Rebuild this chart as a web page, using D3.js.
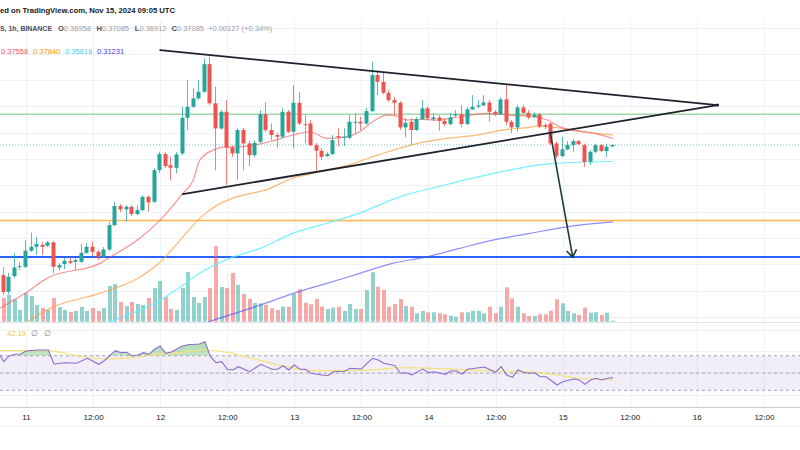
<!DOCTYPE html>
<html><head><meta charset="utf-8">
<script src="https://cdn.jsdelivr.net/npm/d3@7"></script>
<style>
html,body{margin:0;padding:0;background:#fff;}
svg{display:block;font-family:"Liberation Sans",Arial,sans-serif;}
</style></head><body>
<svg id="c" width="800" height="450"></svg>
<script>
// ---------- DATA (1h candles, hour offsets from Nov 11 00:00 UTC) ----------
const hours = d3.range(-4, 106);
const open = [0.2718,0.2591,0.2710,0.2781,0.2781,0.2903,0.2933,0.2948,0.2941,0.2967,0.2776,0.2802,0.2824,0.2819,0.2819,0.2887,0.2933,0.2895,0.2857,0.2913,0.3098,0.3243,0.3218,0.3237,0.3182,0.3212,0.3313,0.3275,0.3516,0.3638,0.3554,0.3534,0.3643,0.3914,0.3998,0.4062,0.4112,0.4322,0.4024,0.3833,0.3960,0.3689,0.3643,0.3821,0.3719,0.3630,0.3732,0.3942,0.3821,0.3783,0.3770,0.3960,0.3808,0.4028,0.3866,0.3871,0.3706,0.3663,0.3623,0.3638,0.3775,0.3762,0.3762,0.3876,0.3884,0.3871,0.3965,0.4239,0.4188,0.4104,0.4049,0.4028,0.3841,0.3884,0.3821,0.3904,0.3986,0.3904,0.3917,0.3891,0.3866,0.3932,0.3942,0.3866,0.3978,0.3998,0.4008,0.4031,0.3960,0.3942,0.4054,0.3884,0.3841,0.3993,0.3952,0.3922,0.3940,0.3859,0.3870,0.3719,0.3623,0.3674,0.3706,0.3737,0.3706,0.3579,0.3656,0.3706,0.3661,0.36958];
const high = [0.2779,0.2735,0.2885,0.2817,0.2984,0.3040,0.3009,0.2969,0.2976,0.2976,0.2809,0.2847,0.2852,0.2845,0.2954,0.2961,0.2971,0.2908,0.2931,0.3121,0.3275,0.3258,0.3250,0.3250,0.3250,0.3326,0.3322,0.3532,0.3656,0.3653,0.3617,0.3653,0.3998,0.4201,0.4138,0.4201,0.4366,0.4378,0.4150,0.3973,0.4049,0.3706,0.3836,0.3836,0.3737,0.3744,0.3973,0.4033,0.3871,0.3798,0.3986,0.3973,0.4163,0.4112,0.3935,0.3897,0.3722,0.3684,0.3653,0.3783,0.3833,0.3833,0.3935,0.3948,0.3922,0.3988,0.4340,0.4264,0.4254,0.4125,0.4074,0.4041,0.3912,0.3912,0.3919,0.4049,0.4003,0.3950,0.3935,0.3912,0.3950,0.3973,0.4011,0.3995,0.4087,0.4049,0.4087,0.4049,0.3973,0.4071,0.4163,0.3897,0.4011,0.4011,0.3973,0.3957,0.3950,0.3874,0.3881,0.3732,0.3770,0.3737,0.3752,0.3744,0.3718,0.3668,0.3718,0.3714,0.3714,0.37085];
const low = [0.2566,0.2573,0.2695,0.2756,0.2771,0.2893,0.2870,0.2870,0.2931,0.2731,0.2756,0.2764,0.2802,0.2756,0.2809,0.2878,0.2862,0.2832,0.2847,0.2900,0.3090,0.3197,0.3123,0.3167,0.3174,0.3205,0.3199,0.3265,0.3494,0.3532,0.3440,0.3494,0.3630,0.3821,0.3988,0.4049,0.4102,0.4011,0.3516,0.3821,0.3402,0.3617,0.3440,0.3516,0.3547,0.3615,0.3722,0.3805,0.3744,0.3684,0.3760,0.3798,0.3684,0.3859,0.3722,0.3699,0.3516,0.3592,0.3615,0.3630,0.3694,0.3699,0.3752,0.3795,0.3821,0.3859,0.3957,0.4087,0.4094,0.4033,0.3935,0.3821,0.3767,0.3714,0.3813,0.3897,0.3897,0.3889,0.3815,0.3851,0.3859,0.3919,0.3841,0.3859,0.3973,0.3988,0.4003,0.3884,0.3927,0.3935,0.3859,0.3798,0.3808,0.3942,0.3904,0.3912,0.3836,0.3828,0.3706,0.3608,0.3615,0.3668,0.3656,0.3706,0.3539,0.3554,0.3646,0.3653,0.3617,0.36912];
const close = [0.2589,0.2705,0.2776,0.2786,0.2903,0.2933,0.2954,0.2933,0.2967,0.2781,0.2794,0.2827,0.2811,0.2832,0.2887,0.2933,0.2895,0.2857,0.2913,0.3098,0.3243,0.3218,0.3237,0.3182,0.3212,0.3313,0.3271,0.3516,0.3638,0.3547,0.3534,0.3636,0.3914,0.3998,0.4062,0.4112,0.4322,0.4024,0.3833,0.3960,0.3689,0.3643,0.3821,0.3719,0.3630,0.3724,0.3942,0.3821,0.3783,0.3770,0.3960,0.3808,0.4028,0.3871,0.3859,0.3706,0.3663,0.3617,0.3638,0.3744,0.3765,0.3770,0.3884,0.3884,0.3871,0.3965,0.4239,0.4188,0.4104,0.4049,0.4028,0.3841,0.3876,0.3821,0.3904,0.3986,0.3910,0.3917,0.3891,0.3866,0.3917,0.3942,0.3866,0.3978,0.3998,0.4008,0.4031,0.3960,0.3942,0.4054,0.3884,0.3841,0.3993,0.3952,0.3917,0.3940,0.3849,0.3847,0.3719,0.3623,0.3674,0.3709,0.3737,0.3714,0.3579,0.3656,0.3706,0.3661,0.3695,0.37085];
const volume = [237,267,227,117,287,257,167,137,117,237,147,117,97,107,147,107,137,107,137,357,377,197,157,197,177,167,237,337,407,247,127,117,337,497,247,187,247,337,757,347,337,487,367,277,227,187,184,167,134,117,150,150,277,324,190,174,227,150,127,140,150,107,177,127,127,317,494,350,317,150,177,227,157,150,84,107,94,94,84,74,60,50,94,94,110,110,84,150,84,150,344,234,150,84,57,57,74,74,110,224,184,107,84,67,140,90,94,67,90,10];

// moving averages
const ema20Hours = [-4.6,-0.1,3.8,13.3,15.1,20.4,24.0,28.1,29.9,31.1,33.5,35.3,37.0,39.5,43.6,47.8,50.8,53.8,56.7,59.7,62.0,64.5,66.3,68.1,70.4,73.5,77.6,82.4,86.0,90.1,93.3,95.8,98.6,101.7,105];
const ema20Values = [0.2467,0.2581,0.2695,0.2809,0.2855,0.3000,0.3136,0.3341,0.3440,0.3592,0.3668,0.3691,0.3691,0.3699,0.3732,0.3783,0.3808,0.3757,0.3765,0.3808,0.3884,0.3935,0.3927,0.3897,0.3902,0.3897,0.3922,0.3948,0.3935,0.3927,0.3897,0.3841,0.3815,0.3795,0.37558];
const ema50Hours = [0.2,4.4,13.3,20.4,24.0,27.6,31.1,34.2,37.0,43.3,47.8,51.7,57.6,62.9,69.5,75.3,80.6,86.0,90.1,91.5,94.5,97.6,101.1,105];
const ema50Values = [0.2363,0.2467,0.2581,0.2703,0.2817,0.2984,0.3151,0.3250,0.3303,0.3372,0.3456,0.3494,0.3554,0.3630,0.3714,0.3757,0.3783,0.3826,0.3841,0.3851,0.3841,0.3821,0.3800,0.3784];
const ema100Hours = [15.1,20.4,24.0,27.6,31.1,37.0,41.9,47.8,53.8,59.7,64.5,67.8,73.6,79.7,85.6,91.5,94.5,105];
const ema100Values = [0.2363,0.2452,0.2528,0.2627,0.2733,0.2855,0.2921,0.3037,0.3113,0.3189,0.3275,0.3326,0.3389,0.3453,0.3509,0.3554,0.3567,0.35818];
const ema200Hours = [32.6,41.9,47.8,53.8,59.7,65.6,71.7,77.6,83.5,90.1,96.7,105];
const ema200Values = [0.2363,0.2490,0.2579,0.2655,0.2731,0.2807,0.2857,0.2921,0.2984,0.3035,0.3085,0.31231];

// RSI pane
const rsiHours = [-5,-4,-3,-2,-1,0,2,4,5,7,9,11,13,14,16,17,18,19,20,21,22,23,24,25,26,28,29,31,32,33,34,35,36,37,38,40,42,44,45,46,47,48,49,50,51,53,54,55,57,58,60,61,62,63,64,66,67,68,69,71,72,73,75,76,77,78,79,81,82,84,85,86,87,88,89,90,91,92,93,94,95,96,98,99,100,101,102,103,104,105];
const rsiValues = [74.6,63.1,69.7,71.6,72.0,75.4,76.6,76.6,60.4,61.9,61.2,67.0,60.1,64.2,75.8,73.5,73.9,69.7,70.8,73.5,71.6,77.4,81.2,72.8,74.3,81.2,82.7,83.5,86.2,68.8,61.9,63.1,54.3,53.5,57.3,51.5,60.1,54.3,54.3,58.4,53.5,59.2,54.3,54.3,49.7,47.7,46.9,51.5,52.0,55.4,54.6,61.2,67.0,65.0,61.2,58.4,49.7,50.3,47.7,54.6,50.3,51.5,48.5,52.3,52.3,48.8,54.3,56.1,56.9,50.8,57.3,47.7,45.0,53.5,50.8,49.7,50.3,45.7,45.7,41.1,36.1,39.9,43.1,41.9,36.9,41.9,43.9,41.9,43.9,44.6];
const rsiMaHours = [-5,4,7,10,15,19,24,29,32,36,40,44,48,52,58,62,67,73,79,85,91,95,99,103,105];
const rsiMaValues = [75.8,75.8,72.8,68.8,66.2,67.7,72.0,74.6,76.6,73.9,67.7,61.2,55.4,52.7,52.7,53.5,56.1,55.4,53.5,52.3,50.8,47.7,43.9,42.7,42.19];
const rsiLevels = [70, 50, 30];
const rsiGrid = [100, 75, 50, 25];

// drawings
const upperTrendHours = [24.0, 123.7], upperTrendPrices = [0.4429, 0.4011];
const lowerTrendHours = [28.05, 123.7], lowerTrendPrices = [0.3334, 0.4011];
const arrowHours = [93.8, 97.8], arrowPrices = [0.3798, 0.2855];
const levelPrices = [0.3942, 0.3134, 0.2855];
const levelColors = ["#a5d6a7", "#ffb74d", "#2962ff"];
const lastClose = 0.37085;

// time axis
const tickHours = d3.range(0, 133, 12);
const tickLabels = ["11","12:00","12","12:00","13","12:00","14","12:00","15","12:00","16","12:00"];
const gridPrices = d3.range(0.24, 0.4701, 0.02);

// legends
const headerText = "ed on TradingView.com, Nov 15, 2024 09:05 UTC";
const symbolText = "S, 1h, BINANCE";
const ohlcLabels = ["O","H","L","C"];
const ohlcValues = ["0.36958","0.37085","0.36912","0.37085"];
const changeText = "+0.00127 (+0.34%)";
const maLegend = ["0.37558","0.37840","0.35818","0.31231"];
const maColors = ["#f7525f","#ff9800","#4dd0e1","#3d3df0"];

// ---------- DRAW ----------
const svg = d3.select("#c");
const PANE_TOP = 19, PANE_BOT = 322, RSI_TOP = 322, RSI_BOT = 407;
const x = d3.scaleLinear().domain([0, 132]).range([26, 763.9]);
const y = d3.scaleLinear().domain([0.24, 0.44]).range([316.9, 53.9]);
const vy = d3.scaleLinear().domain([0, 760]).range([321.7, 245.7]);
const ry = d3.scaleLinear().domain([30, 70]).range([390.3, 355.7]);

svg.append("rect").attr("width",800).attr("height",450).attr("fill","#fff");
const defs = svg.append("defs");
defs.append("clipPath").attr("id","cmain").append("rect").attr("x",0).attr("y",PANE_TOP).attr("width",800).attr("height",PANE_BOT-PANE_TOP);
defs.append("clipPath").attr("id","crsi").append("rect").attr("x",0).attr("y",RSI_TOP).attr("width",800).attr("height",RSI_BOT-RSI_TOP);
defs.append("clipPath").attr("id","cob").append("rect").attr("x",0).attr("y",RSI_TOP).attr("width",800).attr("height",ry(70)-RSI_TOP);
const grad = defs.append("linearGradient").attr("id","gob").attr("x1",0).attr("x2",0).attr("y1",0).attr("y2",1);
grad.append("stop").attr("offset","0%").attr("stop-color","rgba(76,175,80,0.45)");
grad.append("stop").attr("offset","100%").attr("stop-color","rgba(76,175,80,0.05)");

const gridColor = "#eef1f6";
// vertical grid
svg.append("g").selectAll("line").data(tickHours).join("line")
  .attr("x1",d=>Math.round(x(d))+0.5).attr("x2",d=>Math.round(x(d))+0.5)
  .attr("y1",PANE_TOP).attr("y2",RSI_BOT).attr("stroke",gridColor);
// price grid
const main = svg.append("g").attr("clip-path","url(#cmain)");
main.append("g").selectAll("line").data(gridPrices).join("line")
  .attr("x1",0).attr("x2",800).attr("y1",d=>Math.round(y(d))+0.5).attr("y2",d=>Math.round(y(d))+0.5)
  .attr("stroke",gridColor);

// horizontal levels
main.append("g").selectAll("line").data(levelPrices).join("line")
  .attr("x1",0).attr("x2",800).attr("y1",d=>y(d)).attr("y2",d=>y(d))
  .attr("stroke",(d,i)=>levelColors[i]).attr("stroke-width",(d,i)=>i===2?2:1.5);

// volume
const isUp = i => close[i] >= open[i];
main.append("g").selectAll("rect").data(hours).join("rect")
  .attr("x",(d)=>Math.round(x(d))-2).attr("width",4)
  .attr("y",(d,i)=>vy(volume[i])).attr("height",(d,i)=>vy(0)-vy(volume[i]))
  .attr("fill",(d,i)=>isUp(i)?"rgba(38,166,154,0.5)":"rgba(239,83,80,0.5)");

// moving averages
const lineGen = d3.line().x(d=>x(d[0])).y(d=>y(d[1])).curve(d3.curveMonotoneX);
const maSets = [
  [ema200Hours, ema200Values, "rgba(80,80,255,0.65)"],
  [ema100Hours, ema100Values, "rgba(90,240,255,0.85)"],
  [ema50Hours, ema50Values, "rgba(255,160,70,0.75)"],
  [ema20Hours, ema20Values, "rgba(245,90,90,0.65)"]
];
maSets.forEach(([hs, vs, col]) => {
  main.append("path").datum(hs.map((h,i)=>[h, vs[i]])).attr("d",lineGen)
    .attr("fill","none").attr("stroke",col).attr("stroke-width",1.2);
});

// last price dotted line
main.append("line").attr("x1",0).attr("x2",800).attr("y1",y(lastClose)).attr("y2",y(lastClose))
  .attr("stroke","#26a69a").attr("stroke-dasharray","1,2").attr("opacity",0.6);

// candles
const cg = main.append("g");
hours.forEach((h,i)=>{
  const cx = Math.round(x(h));
  const col = isUp(i) ? "#26a69a" : "#ef5350";
  cg.append("rect").attr("x",cx-1).attr("width",1)
    .attr("y",y(high[i])).attr("height",Math.max(1,y(low[i])-y(high[i]))).attr("fill",col).attr("opacity",0.75);
  const top = y(Math.max(open[i],close[i])), bot = y(Math.min(open[i],close[i]));
  cg.append("rect").attr("x",cx-2.5).attr("width",4)
    .attr("y",top).attr("height",Math.max(1,bot-top)).attr("fill",col);
});

// trend lines
[[upperTrendHours, upperTrendPrices],[lowerTrendHours, lowerTrendPrices]].forEach(([hs,ps])=>{
  main.append("line").attr("x1",x(hs[0])).attr("y1",y(ps[0])).attr("x2",x(hs[1])).attr("y2",y(ps[1]))
    .attr("stroke","#1e222d").attr("stroke-width",1.8).attr("stroke-linecap","round");
});
main.append("circle").attr("cx",x(upperTrendHours[1])).attr("cy",y(upperTrendPrices[1])).attr("r",1.6).attr("fill","#1e222d");

// arrow
const ax1 = x(arrowHours[0]), ay1 = y(arrowPrices[0]), ax2 = x(arrowHours[1]), ay2 = y(arrowPrices[1]);
main.append("line").attr("x1",ax1).attr("y1",ay1).attr("x2",ax2).attr("y2",ay2)
  .attr("stroke","#1d3b32").attr("stroke-width",1.6);
const ang = Math.atan2(ay2-ay1, ax2-ax1);
[Math.PI*0.8, -Math.PI*0.8].forEach(a=>{
  main.append("line").attr("x1",ax2).attr("y1",ay2)
    .attr("x2",ax2+8*Math.cos(ang+a)).attr("y2",ay2+8*Math.sin(ang+a))
    .attr("stroke","#1d3b32").attr("stroke-width",1.6).attr("stroke-linecap","round");
});

// pane separator
svg.append("line").attr("x1",0).attr("x2",800).attr("y1",PANE_BOT+0.5).attr("y2",PANE_BOT+0.5).attr("stroke","#e0e3eb");

// ---------- RSI ----------
const rg = svg.append("g").attr("clip-path","url(#crsi)");
rg.append("g").selectAll("line").data(rsiGrid).join("line")
  .attr("x1",0).attr("x2",800).attr("y1",d=>Math.round(ry(d))+0.5).attr("y2",d=>Math.round(ry(d))+0.5).attr("stroke",gridColor);
rg.append("rect").attr("x",0).attr("width",800).attr("y",ry(70)).attr("height",ry(30)-ry(70)).attr("fill","rgba(126,87,194,0.1)");
rg.append("g").selectAll("line").data(rsiLevels).join("line")
  .attr("x1",0).attr("x2",800).attr("y1",d=>ry(d)).attr("y2",d=>ry(d))
  .attr("stroke","#9598a1").attr("stroke-dasharray","3,3").attr("opacity",0.8);
const rsiPts = rsiHours.map((h,i)=>[h, rsiValues[i]]);
rg.append("path").datum(rsiPts).attr("clip-path","url(#cob)")
  .attr("d", d3.area().x(d=>x(d[0])).y0(ry(70)).y1(d=>ry(d[1])))
  .attr("fill","url(#gob)");
rg.append("path").datum(rsiMaHours.map((h,i)=>[h, rsiMaValues[i]]))
  .attr("d", d3.line().x(d=>x(d[0])).y(d=>ry(d[1])).curve(d3.curveMonotoneX))
  .attr("fill","none").attr("stroke","#f5e37a").attr("stroke-width",1.2);
rg.append("path").datum(rsiPts)
  .attr("d", d3.line().x(d=>x(d[0])).y(d=>ry(d[1])))
  .attr("fill","none").attr("stroke","#8b6ccf").attr("stroke-width",1.1);

// time axis
svg.append("line").attr("x1",0).attr("x2",800).attr("y1",RSI_BOT+0.5).attr("y2",RSI_BOT+0.5).attr("stroke","#c9ccd4").attr("stroke-width",1.2);
svg.append("line").attr("x1",0).attr("x2",800).attr("y1",426.5).attr("y2",426.5).attr("stroke","#f0f2f5");
const axis = d3.axisBottom(x).tickValues(tickHours).tickFormat((d,i)=>tickLabels[i]).tickSize(0).tickPadding(7.5);
const ag = svg.append("g").attr("transform",`translate(0,${RSI_BOT})`).call(axis);
ag.select(".domain").remove();
ag.selectAll("text").attr("fill","#131722").attr("font-size","8px").attr("font-family","Liberation Sans, Arial, sans-serif");

// ---------- LEGENDS ----------
svg.append("text").attr("x",0).attr("y",13.3).attr("font-size","7.8px").attr("font-weight","bold").attr("fill","#131722")
  .attr("textLength",175).attr("lengthAdjust","spacingAndGlyphs").text(headerText);
svg.append("text").attr("x",0).attr("y",30.6).attr("font-size","7.3px").attr("font-weight","bold").attr("fill","#4a4e59")
  .attr("textLength",52).attr("lengthAdjust","spacingAndGlyphs").text(symbolText);
const ohlcX = [58, 96.5, 134.8, 171.5];
ohlcLabels.forEach((l,i)=>{
  const t = svg.append("text").attr("x",ohlcX[i]).attr("y",30.6).attr("font-size","7.5px");
  t.append("tspan").attr("fill","#4a4e59").attr("font-weight","bold").text(l);
  t.append("tspan").attr("fill","#9a9da6").text(ohlcValues[i]);
});
svg.append("text").attr("x",208).attr("y",30.6).attr("font-size","7.5px").attr("fill","#9a9da6").text(changeText);
const maX = [1, 33, 65, 97];
maLegend.forEach((v,i)=>{
  svg.append("text").attr("x",maX[i]).attr("y",53.6).attr("font-size","7.5px").attr("fill",maColors[i]).text(v);
});
svg.append("text").attr("x",7).attr("y",335.7).attr("font-size","7.5px").attr("fill","#e8cc3a").text("42.19");
svg.append("text").attr("x",31).attr("y",335.7).attr("font-size","7.5px").attr("fill","#787b86").text("∅");
svg.append("text").attr("x",44).attr("y",335.7).attr("font-size","7.5px").attr("fill","#787b86").text("∅");
</script>
</body></html>
